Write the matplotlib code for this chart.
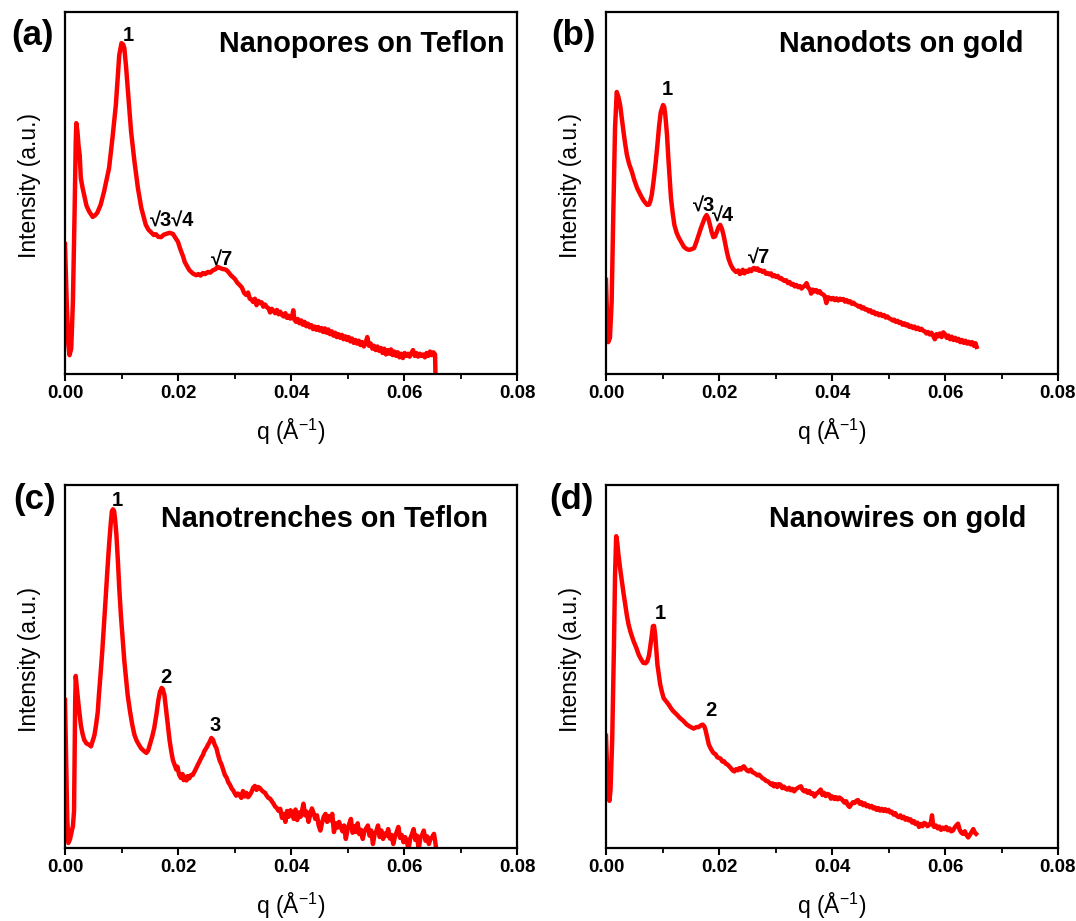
import matplotlib
matplotlib.use("Agg")
import matplotlib.pyplot as plt
from matplotlib.ticker import MultipleLocator

plt.rcParams['font.family'] = ['Liberation Sans', 'DejaVu Sans']
plt.rcParams['mathtext.fontset'] = 'custom'
plt.rcParams['mathtext.rm'] = 'Liberation Sans'

# (a) Nanopores on Teflon
q_a = [0.0000, 0.0003, 0.0006, 0.0008, 0.0011, 0.0014, 0.0017, 0.0019, 0.0020, 0.0022,
       0.0024, 0.0026, 0.0028, 0.0031, 0.0034, 0.0038, 0.0043, 0.0049, 0.0053, 0.0057,
       0.0063, 0.0069, 0.0074, 0.0078, 0.0084, 0.0090, 0.0096, 0.0100, 0.0103, 0.0105,
       0.0108, 0.0111, 0.0117, 0.0123, 0.0129, 0.0135, 0.0143, 0.0148, 0.0152, 0.0157,
       0.0161, 0.0165, 0.0170, 0.0175, 0.0179, 0.0185, 0.0191, 0.0196, 0.0200, 0.0203,
       0.0206, 0.0209, 0.0212, 0.0216, 0.0220, 0.0226, 0.0232, 0.0236, 0.0240, 0.0244,
       0.0248, 0.0253, 0.0257, 0.0262, 0.0266, 0.0270, 0.0274, 0.0279, 0.0283, 0.0286,
       0.0290, 0.0294, 0.0297, 0.0301, 0.0305, 0.0309, 0.0313, 0.0317, 0.0321, 0.0324,
       0.0327, 0.0330, 0.0333, 0.0336, 0.0339, 0.0342, 0.0345, 0.0348, 0.0351, 0.0354,
       0.0357, 0.0360, 0.0363, 0.0366, 0.0369, 0.0372, 0.0375, 0.0378, 0.0381, 0.0384,
       0.0387, 0.0390, 0.0393, 0.0396, 0.0399, 0.0402, 0.0404, 0.0406, 0.0409, 0.0412,
       0.0415, 0.0418, 0.0421, 0.0424, 0.0427, 0.0430, 0.0433, 0.0436, 0.0439, 0.0442,
       0.0445, 0.0448, 0.0451, 0.0454, 0.0457, 0.0460, 0.0463, 0.0466, 0.0469, 0.0472,
       0.0475, 0.0478, 0.0481, 0.0484, 0.0487, 0.0490, 0.0493, 0.0496, 0.0499, 0.0502,
       0.0505, 0.0508, 0.0511, 0.0514, 0.0517, 0.0520, 0.0523, 0.0526, 0.0529, 0.0532,
       0.0535, 0.0538, 0.0541, 0.0544, 0.0547, 0.0550, 0.0553, 0.0556, 0.0559, 0.0562,
       0.0565, 0.0568, 0.0571, 0.0574, 0.0577, 0.0580, 0.0583, 0.0586, 0.0589, 0.0592,
       0.0595, 0.0598, 0.0601, 0.0604, 0.0607, 0.0610, 0.0613, 0.0616, 0.0619, 0.0622,
       0.0625, 0.0628, 0.0631, 0.0634, 0.0637, 0.0640, 0.0643, 0.0646, 0.0649, 0.0652,
       0.0655, 0.0656]
i_a = [35.9, 20.0, 8.0, 5.2, 7.0, 20.0, 45.0, 64.0, 69.3, 67.0,
       63.0, 60.5, 54.1, 51.5, 49.4, 46.5, 44.8, 43.4, 43.8, 44.5,
       46.7, 50.3, 54.0, 56.9, 65.2, 74.3, 88.1, 91.4, 91.0, 90.0,
       85.0, 79.0, 66.9, 58.6, 51.4, 45.9, 41.2, 39.8, 39.2, 38.4,
       38.6, 37.9, 37.8, 38.5, 38.7, 39.0, 38.7, 37.5, 36.5, 35.0,
       33.7, 32.5, 30.9, 29.8, 28.7, 27.8, 27.3, 27.6, 27.2, 27.9,
       27.6, 28.2, 28.0, 28.7, 28.9, 29.6, 29.3, 29.0, 28.9, 28.7,
       28.0, 27.2, 26.8, 26.2, 25.2, 24.6, 23.9, 22.4, 21.8, 22.5,
       20.8, 20.6, 19.9, 20.8, 19.0, 20.2, 19.6, 19.8, 18.6, 19.2,
       18.5, 18.2, 17.0, 18.0, 17.4, 16.8, 17.7, 16.5, 17.2, 16.3,
       15.9, 16.8, 15.5, 16.1, 15.3, 16.0, 17.6, 15.0, 14.4, 15.2,
       14.0, 14.8, 13.6, 14.4, 13.2, 13.9, 12.9, 13.5, 12.4, 13.1,
       12.2, 13.0, 12.0, 12.7, 11.6, 12.6, 11.4, 12.3, 11.0, 11.8,
       10.6, 11.4, 10.2, 11.0, 10.0, 10.8, 9.6, 10.4, 9.4, 10.2,
       9.0, 9.8, 8.6, 9.4, 8.4, 9.2, 8.0, 8.8, 7.6, 8.6,
       10.2, 7.8, 8.4, 7.0, 7.8, 6.6, 7.6, 6.4, 7.2, 5.8,
       7.0, 5.4, 6.6, 5.6, 6.8, 5.2, 6.2, 5.0, 6.0, 4.6,
       5.6, 4.4, 5.8, 5.0, 5.6, 4.8, 5.8, 6.6, 5.0, 5.8,
       4.8, 5.6, 5.0, 5.4, 4.6, 5.8, 5.0, 6.2, 5.2, 6.0,
       5.4, -3.0]

# (b) Nanodots on gold
q_b = [0.0000, 0.0002, 0.0004, 0.0007, 0.0010, 0.0013, 0.0016, 0.0019, 0.0022, 0.0025,
       0.0028, 0.0031, 0.0034, 0.0037, 0.0041, 0.0046, 0.0050, 0.0055, 0.0060, 0.0064,
       0.0068, 0.0073, 0.0076, 0.0078, 0.0081, 0.0084, 0.0088, 0.0091, 0.0094, 0.0097,
       0.0101, 0.0103, 0.0105, 0.0108, 0.0110, 0.0113, 0.0115, 0.0118, 0.0121, 0.0125,
       0.0129, 0.0134, 0.0138, 0.0143, 0.0147, 0.0152, 0.0156, 0.0160, 0.0164, 0.0168,
       0.0172, 0.0175, 0.0178, 0.0181, 0.0184, 0.0187, 0.0190, 0.0193, 0.0196, 0.0199,
       0.0202, 0.0205, 0.0208, 0.0211, 0.0214, 0.0217, 0.0221, 0.0225, 0.0230, 0.0234,
       0.0237, 0.0239, 0.0242, 0.0245, 0.0248, 0.0251, 0.0254, 0.0257, 0.0260, 0.0262,
       0.0265, 0.0268, 0.0271, 0.0274, 0.0277, 0.0280, 0.0283, 0.0286, 0.0289, 0.0292,
       0.0295, 0.0298, 0.0301, 0.0304, 0.0307, 0.0310, 0.0313, 0.0316, 0.0319, 0.0322,
       0.0325, 0.0328, 0.0331, 0.0334, 0.0337, 0.0340, 0.0343, 0.0346, 0.0349, 0.0352,
       0.0355, 0.0358, 0.0361, 0.0363, 0.0366, 0.0369, 0.0372, 0.0375, 0.0378, 0.0381,
       0.0384, 0.0387, 0.0390, 0.0393, 0.0396, 0.0399, 0.0402, 0.0405, 0.0408, 0.0411,
       0.0414, 0.0417, 0.0420, 0.0423, 0.0426, 0.0429, 0.0432, 0.0435, 0.0438, 0.0441,
       0.0444, 0.0447, 0.0450, 0.0453, 0.0456, 0.0459, 0.0462, 0.0465, 0.0468, 0.0471,
       0.0474, 0.0477, 0.0480, 0.0483, 0.0486, 0.0489, 0.0492, 0.0495, 0.0498, 0.0501,
       0.0504, 0.0507, 0.0510, 0.0513, 0.0516, 0.0519, 0.0522, 0.0525, 0.0528, 0.0531,
       0.0534, 0.0537, 0.0540, 0.0543, 0.0546, 0.0549, 0.0552, 0.0555, 0.0558, 0.0561,
       0.0564, 0.0567, 0.0570, 0.0573, 0.0576, 0.0579, 0.0582, 0.0585, 0.0588, 0.0591,
       0.0594, 0.0597, 0.0600, 0.0603, 0.0606, 0.0609, 0.0612, 0.0615, 0.0618, 0.0621,
       0.0624, 0.0627, 0.0630, 0.0633, 0.0636, 0.0639, 0.0642, 0.0645, 0.0648, 0.0651,
       0.0654, 0.0656]
i_b = [26.0, 15.0, 8.8, 10.0, 20.0, 45.0, 68.0, 77.9, 76.5, 74.3,
       70.5, 66.9, 63.5, 60.5, 58.0, 55.8, 53.6, 51.4, 49.8, 48.6,
       47.6, 46.7, 46.8, 47.5, 49.5, 53.0, 58.5, 63.3, 68.5, 72.4,
       74.3, 73.8, 71.5, 66.0, 60.5, 53.5, 48.6, 44.5, 41.2, 39.0,
       37.6, 36.2, 35.1, 34.5, 34.3, 34.5, 34.8, 36.5, 38.4, 40.3,
       42.0, 43.2, 43.9, 43.0, 41.2, 39.2, 37.8, 38.0, 39.2, 40.5,
       41.2, 40.2, 38.4, 36.0, 33.7, 31.8, 30.1, 29.0, 28.2, 28.6,
       27.6, 27.9, 28.8, 27.8, 28.5, 28.2, 28.9, 28.4, 29.1, 29.3,
       28.8, 29.2, 28.5, 28.7, 28.2, 28.5, 27.7, 27.9, 27.5, 27.8,
       27.0, 27.3, 26.8, 27.1, 26.4, 26.5, 26.0, 25.7, 25.9, 25.1,
       25.4, 24.7, 24.9, 24.2, 24.6, 24.0, 24.3, 23.6, 24.1, 24.4,
       25.1, 23.8, 23.4, 22.2, 23.3, 22.8, 23.2, 22.5, 22.9, 22.2,
       22.0, 21.6, 19.6, 21.2, 21.0, 20.6, 21.0, 20.4, 20.9, 20.3,
       20.8, 20.5, 20.7, 20.0, 20.4, 19.8, 20.1, 19.4, 19.7, 19.2,
       19.0, 18.6, 18.8, 18.1, 18.4, 17.8, 17.9, 17.3, 17.6, 16.9,
       17.2, 16.5, 16.8, 16.2, 16.6, 16.0, 16.3, 15.6, 15.9, 15.4,
       15.2, 14.8, 15.0, 14.4, 14.7, 14.1, 14.3, 13.6, 14.0, 13.4,
       13.7, 13.0, 13.3, 12.7, 13.1, 12.4, 12.8, 12.2, 12.5, 12.0,
       11.8, 11.2, 11.6, 10.9, 11.4, 10.6, 9.6, 11.0, 10.4, 11.2,
       10.2, 11.5, 11.0, 10.0, 10.6, 9.6, 10.3, 9.4, 10.0, 9.2,
       9.7, 8.8, 9.4, 8.6, 9.2, 8.4, 8.9, 8.2, 8.8, 7.8,
       8.5, 7.5]

# (c) Nanotrenches on Teflon
q_c = [0.0000, 0.0002, 0.0004, 0.0006, 0.0009, 0.0012, 0.0014, 0.0016, 0.0017, 0.0018,
       0.0019, 0.0021, 0.0024, 0.0028, 0.0031, 0.0034, 0.0038, 0.0043, 0.0046, 0.0049,
       0.0052, 0.0055, 0.0058, 0.0060, 0.0063, 0.0066, 0.0069, 0.0072, 0.0075, 0.0078,
       0.0081, 0.0083, 0.0085, 0.0087, 0.0089, 0.0091, 0.0094, 0.0096, 0.0099, 0.0102,
       0.0105, 0.0108, 0.0111, 0.0115, 0.0119, 0.0123, 0.0127, 0.0131, 0.0135, 0.0140,
       0.0144, 0.0147, 0.0150, 0.0154, 0.0158, 0.0162, 0.0165, 0.0168, 0.0171, 0.0173,
       0.0176, 0.0179, 0.0182, 0.0185, 0.0188, 0.0191, 0.0194, 0.0197, 0.0199, 0.0202,
       0.0205, 0.0208, 0.0210, 0.0213, 0.0215, 0.0217, 0.0220, 0.0223, 0.0226, 0.0229,
       0.0232, 0.0235, 0.0238, 0.0241, 0.0244, 0.0247, 0.0250, 0.0253, 0.0256, 0.0259,
       0.0262, 0.0265, 0.0268, 0.0271, 0.0274, 0.0277, 0.0280, 0.0283, 0.0286, 0.0289,
       0.0292, 0.0295, 0.0298, 0.0300, 0.0303, 0.0306, 0.0309, 0.0312, 0.0315, 0.0318,
       0.0321, 0.0324, 0.0327, 0.0330, 0.0333, 0.0336, 0.0339, 0.0342, 0.0345, 0.0348,
       0.0351, 0.0354, 0.0357, 0.0360, 0.0363, 0.0366, 0.0369, 0.0372, 0.0375, 0.0378,
       0.0381, 0.0384, 0.0387, 0.0390, 0.0393, 0.0396, 0.0399, 0.0402, 0.0405, 0.0408,
       0.0411, 0.0414, 0.0417, 0.0420, 0.0422, 0.0425, 0.0428, 0.0431, 0.0434, 0.0437,
       0.0440, 0.0443, 0.0446, 0.0449, 0.0452, 0.0455, 0.0458, 0.0461, 0.0464, 0.0467,
       0.0470, 0.0473, 0.0476, 0.0479, 0.0482, 0.0485, 0.0488, 0.0491, 0.0494, 0.0497,
       0.0500, 0.0503, 0.0506, 0.0509, 0.0512, 0.0515, 0.0518, 0.0521, 0.0524, 0.0527,
       0.0530, 0.0533, 0.0536, 0.0539, 0.0542, 0.0545, 0.0548, 0.0551, 0.0554, 0.0557,
       0.0560, 0.0563, 0.0566, 0.0569, 0.0572, 0.0575, 0.0578, 0.0581, 0.0584, 0.0587,
       0.0590, 0.0593, 0.0596, 0.0599, 0.0602, 0.0605, 0.0608, 0.0611, 0.0614, 0.0617,
       0.0620, 0.0623, 0.0626, 0.0629, 0.0632, 0.0635, 0.0638, 0.0641, 0.0644, 0.0647,
       0.0650, 0.0653, 0.0655, 0.0657]
i_c = [40.8, 25.0, 8.0, 1.4, 2.5, 4.7, 6.0, 10.2, 25.0, 40.0,
       47.4, 44.0, 39.4, 33.9, 31.5, 29.8, 28.8, 28.4, 28.0, 29.5,
       31.0, 33.9, 37.5, 42.1, 48.0, 54.3, 61.5, 68.9, 76.5, 83.5,
       89.5, 92.8, 93.3, 92.8, 90.0, 86.2, 78.0, 71.6, 64.0, 57.9,
       51.5, 46.8, 42.0, 37.7, 34.0, 31.1, 29.5, 28.4, 27.4, 26.7,
       26.2, 26.8, 28.4, 30.5, 33.1, 37.0, 40.5, 43.0, 44.1, 43.8,
       42.1, 38.0, 33.9, 29.8, 26.7, 24.2, 22.9, 21.6, 22.4, 20.2,
       19.3, 20.4, 18.7, 19.6, 18.6, 19.8, 19.2, 20.1, 20.1, 21.0,
       21.9, 22.9, 23.8, 24.8, 25.6, 26.8, 27.5, 28.4, 29.2, 30.3,
       29.8, 28.4, 27.5, 25.6, 24.0, 23.0, 21.5, 20.1, 19.4, 18.1,
       17.4, 16.4, 15.8, 15.2, 14.4, 15.0, 14.6, 13.8, 15.7, 14.2,
       15.2, 14.0, 14.6, 15.4, 16.6, 17.1, 16.0, 16.8, 16.5, 15.9,
       15.5, 15.2, 14.4, 13.8, 13.6, 12.9, 12.2, 11.4, 11.0, 10.2,
       10.8, 8.3, 9.4, 7.2, 10.2, 8.6, 10.4, 9.9, 8.0, 10.6,
       7.7, 9.8, 8.6, 10.6, 12.2, 9.0, 10.0, 7.2, 9.2, 10.9,
       9.6, 8.0, 9.0, 6.2, 4.8, 7.0, 8.6, 9.4, 7.2, 8.8,
       7.6, 9.4, 4.4, 6.8, 5.6, 7.2, 5.8, 4.6, 6.2, 2.5,
       5.0, 6.6, 8.0, 4.2, 6.0, 4.4, 6.8, 3.8, 5.0, 2.5,
       4.6, 5.4, 6.2, 3.4, 4.8, 1.1, 3.8, 4.6, 6.2, 3.0,
       4.8, 2.5, 4.0, 3.4, 5.2, 2.6, 3.6, 1.1, 3.2, 4.4,
       5.8, 2.8, 3.6, 1.6, 3.0, 1.8, -0.3, 2.6, 3.8, 5.2,
       2.2, 3.4, -0.3, 2.8, 3.6, 4.8, 2.0, 3.2, 1.1, 2.6,
       3.0, 3.9, 2.0, -0.3]

# (d) Nanowires on gold
q_d = [0.0000, 0.0002, 0.0004, 0.0006, 0.0008, 0.0011, 0.0014, 0.0016, 0.0018, 0.0020,
       0.0022, 0.0025, 0.0028, 0.0031, 0.0034, 0.0037, 0.0040, 0.0044, 0.0049, 0.0054,
       0.0058, 0.0062, 0.0066, 0.0070, 0.0073, 0.0076, 0.0078, 0.0081, 0.0083, 0.0085,
       0.0087, 0.0089, 0.0091, 0.0094, 0.0096, 0.0099, 0.0102, 0.0106, 0.0111, 0.0115,
       0.0119, 0.0125, 0.0131, 0.0137, 0.0143, 0.0149, 0.0155, 0.0160, 0.0164, 0.0168,
       0.0171, 0.0174, 0.0176, 0.0179, 0.0182, 0.0186, 0.0190, 0.0194, 0.0197, 0.0200,
       0.0203, 0.0206, 0.0209, 0.0212, 0.0215, 0.0218, 0.0221, 0.0224, 0.0227, 0.0230,
       0.0233, 0.0236, 0.0239, 0.0242, 0.0244, 0.0247, 0.0250, 0.0253, 0.0256, 0.0259,
       0.0262, 0.0265, 0.0268, 0.0271, 0.0274, 0.0277, 0.0280, 0.0283, 0.0286, 0.0289,
       0.0292, 0.0295, 0.0297, 0.0300, 0.0303, 0.0306, 0.0309, 0.0312, 0.0315, 0.0318,
       0.0321, 0.0324, 0.0327, 0.0330, 0.0333, 0.0336, 0.0339, 0.0342, 0.0345, 0.0348,
       0.0351, 0.0354, 0.0357, 0.0360, 0.0363, 0.0366, 0.0369, 0.0372, 0.0375, 0.0378,
       0.0380, 0.0383, 0.0386, 0.0389, 0.0392, 0.0395, 0.0398, 0.0401, 0.0404, 0.0407,
       0.0410, 0.0413, 0.0416, 0.0419, 0.0422, 0.0425, 0.0428, 0.0431, 0.0434, 0.0437,
       0.0440, 0.0443, 0.0446, 0.0449, 0.0452, 0.0455, 0.0458, 0.0461, 0.0464, 0.0467,
       0.0470, 0.0473, 0.0476, 0.0479, 0.0482, 0.0485, 0.0488, 0.0491, 0.0494, 0.0497,
       0.0500, 0.0503, 0.0506, 0.0509, 0.0512, 0.0515, 0.0518, 0.0521, 0.0524, 0.0527,
       0.0530, 0.0533, 0.0536, 0.0539, 0.0542, 0.0545, 0.0548, 0.0551, 0.0554, 0.0557,
       0.0560, 0.0563, 0.0566, 0.0569, 0.0572, 0.0575, 0.0577, 0.0579, 0.0581, 0.0584,
       0.0587, 0.0590, 0.0593, 0.0596, 0.0599, 0.0602, 0.0605, 0.0608, 0.0611, 0.0614,
       0.0617, 0.0620, 0.0623, 0.0626, 0.0629, 0.0632, 0.0635, 0.0638, 0.0641, 0.0644,
       0.0647, 0.0650, 0.0653, 0.0655]
i_d = [30.9, 22.0, 15.0, 13.0, 16.0, 30.0, 55.0, 75.0, 85.9, 84.0,
       80.8, 77.0, 73.5, 70.2, 67.0, 64.0, 61.5, 59.2, 56.9, 55.0,
       53.2, 52.0, 51.0, 50.9, 51.4, 53.0, 55.1, 58.5, 61.1, 61.2,
       58.8, 54.5, 50.5, 47.2, 45.0, 43.0, 41.3, 40.5, 39.5, 38.5,
       37.7, 36.8, 35.8, 35.0, 34.0, 33.4, 32.9, 33.3, 33.3, 33.8,
       34.0, 33.5, 32.6, 30.5, 28.5, 27.2, 26.2, 25.8, 25.0, 24.8,
       24.6, 23.8, 23.9, 23.2, 23.0, 22.5, 22.0, 21.4, 21.1, 21.7,
       21.4, 22.0, 21.6, 22.3, 22.5, 21.8, 21.3, 21.1, 21.6, 20.9,
       20.7, 20.4, 20.0, 20.2, 19.7, 19.2, 19.0, 18.5, 18.4, 18.0,
       17.5, 17.8, 17.0, 17.6, 16.8, 17.6, 17.4, 16.5, 16.9, 16.3,
       16.1, 16.6, 15.9, 16.3, 15.6, 16.2, 16.5, 16.8, 17.0, 16.0,
       15.6, 15.9, 15.2, 15.7, 14.9, 15.1, 14.2, 15.0, 15.2, 15.8,
       16.1, 14.6, 15.2, 14.3, 14.9, 14.7, 13.6, 14.2, 13.5, 14.0,
       13.4, 13.9, 13.6, 13.1, 12.5, 12.9, 11.8, 11.3, 12.0, 12.6,
       12.4, 13.0, 13.2, 12.2, 12.6, 11.8, 12.3, 11.5, 11.8, 11.2,
       11.6, 10.9, 11.2, 10.5, 11.0, 10.3, 10.8, 10.2, 10.7, 10.1,
       10.5, 9.8, 10.0, 9.2, 9.6, 8.8, 8.5, 9.0, 8.2, 8.6,
       7.8, 8.2, 7.6, 7.9, 7.0, 7.4, 6.6, 7.0, 5.8, 6.6,
       6.0, 6.9, 6.7, 6.0, 6.4, 7.0, 9.0, 6.2, 5.8, 6.2,
       5.4, 5.9, 5.0, 5.6, 5.2, 5.8, 4.9, 5.4, 4.6, 4.8,
       5.6, 6.2, 6.7, 5.0, 4.2, 3.9, 4.6, 3.6, 2.9, 3.6,
       4.4, 5.2, 4.2, 3.9]

titles = ['Nanopores on Teflon', 'Nanodots on gold',
          'Nanotrenches on Teflon', 'Nanowires on gold']
panel_tags = ['(a)', '(b)', '(c)', '(d)']

# peak labels: text, q, intensity
peaks_a = [('1', 0.0112, 93.4), ('√3√4', 0.0189, 42.3), ('√7', 0.0278, 31.5)]
peaks_b = [('1', 0.0109, 78.6), ('√3', 0.0173, 46.3), ('√4', 0.0207, 43.5), ('√7', 0.0271, 32.0)]
peaks_c = [('1', 0.0092, 95.7), ('2', 0.0179, 47.0), ('3', 0.0266, 33.7)]
peaks_d = [('1', 0.0096, 64.6), ('2', 0.0186, 37.9)]

W, H = 1076, 921
fig = plt.figure(figsize=(W / 100, H / 100), dpi=100)

# axes boxes in pixels: left, top, right, bottom
boxes = [(65, 12, 517, 374), (606, 12, 1058, 374),
         (65, 485, 517, 848), (606, 485, 1058, 848)]
title_pos = [(0.972, 0.912), (0.923, 0.912), (0.936, 0.905), (0.931, 0.905)]
tag_pos = [(11, 36), (551, 36), (13, 500), (549, 500)]

series = [(q_a, i_a, peaks_a), (q_b, i_b, peaks_b),
          (q_c, i_c, peaks_c), (q_d, i_d, peaks_d)]

for k, (q, inten, peaks) in enumerate(series):
    l, t, r, b = boxes[k]
    ax = fig.add_axes([l / W, 1 - b / H, (r - l) / W, (b - t) / H])
    ax.plot(q, inten, color='#ff0000', lw=3.2, solid_joinstyle='round')
    ax.set_xlim(0, 0.08)
    ax.set_ylim(0, 100)

    for s in ax.spines.values():
        s.set_linewidth(1.6)
    ax.xaxis.set_minor_locator(MultipleLocator(0.01))
    ax.tick_params(axis='x', which='major', direction='out', length=5, width=1.5,
                   labelsize=13.5, pad=3)
    ax.tick_params(axis='x', which='minor', direction='out', length=3.5, width=1.3)
    ax.set_yticks([])
    ax.set_xticks([0.0, 0.02, 0.04, 0.06, 0.08])
    ax.set_xticklabels(['0.00', '0.02', '0.04', '0.06', '0.08'], fontweight='bold')

    ax.text(0.5, -0.16, 'q (Å$^{\\mathregular{-1}}$)', transform=ax.transAxes,
            ha='center', va='center', fontsize=16.5)
    ax.text(-0.079, 0.52, 'Intensity (a.u.)', transform=ax.transAxes, rotation=90,
            ha='center', va='center', fontsize=16.5)

    tx, ty = title_pos[k]
    ax.text(tx, ty, titles[k], transform=ax.transAxes, ha='right', va='center',
            fontsize=20.7, fontweight='bold')

    for txt, px, py in peaks:
        ax.text(px, py, txt, ha='center', va='center', fontsize=14.5, fontweight='bold')

    gx, gy = tag_pos[k]
    fig.text(gx / W, 1 - gy / H, panel_tags[k], ha='left', va='center',
             fontsize=25, fontweight='bold')

fig.savefig('out.png', dpi=100)
